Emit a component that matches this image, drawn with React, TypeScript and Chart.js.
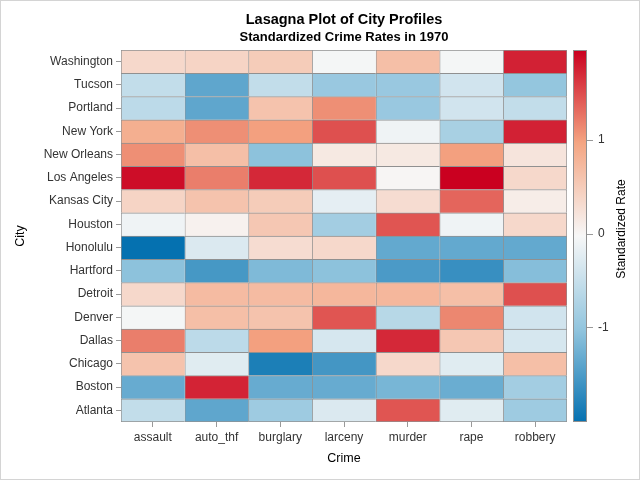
import { useEffect, useRef } from 'react';
import { Chart, registerables } from 'chart.js';

Chart.register(...registerables);

const FONT = '"Liberation Sans", Arial, sans-serif';

const cities = ['Washington', 'Tucson', 'Portland', 'New York', 'New Orleans', 'Los Angeles', 'Kansas City', 'Houston', 'Honolulu', 'Hartford', 'Detroit', 'Denver', 'Dallas', 'Chicago', 'Boston', 'Atlanta'];
const crimes = ['assault', 'auto_thf', 'burglary', 'larceny', 'murder', 'rape', 'robbery'];

// standardized values, in the city order above
const assault = [0.35, -0.55, -0.6, 0.85, 1.1, 1.88, 0.4, -0.1, -2.01, -1.05, 0.35, -0.05, 1.2, 0.6, -1.32, -0.55];
const autoThf = [0.4, -1.38, -1.38, 1.1, 0.65, 1.2, 0.6, 0.05, -0.3, -1.55, 0.7, 0.65, -0.6, -0.25, 1.75, -1.38];
const burglary = [0.5, -0.55, 0.6, 1.0, -1.05, 1.72, 0.5, 0.55, 0.3, -1.15, 0.7, 0.6, 1.0, -1.85, -1.32, -0.9];
const larceny = [-0.05, -0.95, 1.1, 1.48, 0.15, 1.48, -0.2, -0.85, 0.35, -1.05, 0.75, 1.45, -0.35, -1.57, -1.32, -0.3];
const murder = [0.65, -0.95, -0.95, -0.1, 0.15, 0.0, 0.3, 1.45, -1.35, -1.52, 0.75, -0.65, 1.72, 0.35, -1.2, 1.45];
const rape = [-0.05, -0.4, -0.4, -0.8, 1.0, 1.96, 1.35, -0.1, -1.35, -1.65, 0.65, 1.15, 0.55, -0.25, -1.3, -0.25];
const robbery = [1.76, -1.0, -0.55, 1.76, 0.2, 0.35, 0.1, 0.35, -1.35, -1.1, 1.48, -0.4, -0.35, 0.65, -0.85, -0.9];

const seriesValues = [assault, autoThf, burglary, larceny, murder, rape, robbery];
const legendTicks = [-1, 0, 1];

const CB_MIN = -2.01;
const CB_MAX = 1.96;
const rampColors = ['#0571b0', '#92c5de', '#f7f7f7', '#f4a582', '#ca0020'];

function hexToRgb(h: string) {
  const n = parseInt(h.slice(1), 16);
  return [(n >> 16) & 255, (n >> 8) & 255, n & 255];
}

function colorFor(v: number) {
  let t = (v - CB_MIN) / (CB_MAX - CB_MIN);
  t = Math.max(0, Math.min(1, t));
  const seg = t * (rampColors.length - 1);
  const i = Math.min(rampColors.length - 2, Math.floor(seg));
  const f = seg - i;
  const a = hexToRgb(rampColors[i]);
  const b = hexToRgb(rampColors[i + 1]);
  const c = a.map((x, k) => Math.round(x + (b[k] - x) * f));
  return `rgb(${c[0]},${c[1]},${c[2]})`;
}

const colorBarPlugin = {
  id: 'colorBar',
  afterDraw(chart: any) {
    const cb = chart.scales.cb;
    const ctx = chart.ctx;
    const top = cb.getPixelForValue(CB_MAX);
    const bottom = cb.getPixelForValue(CB_MIN);
    const x0 = Math.round(cb.left) + 6;
    const w = 14;
    ctx.save();
    const grad = ctx.createLinearGradient(0, bottom, 0, top);
    rampColors.forEach((c, i) => grad.addColorStop(i / (rampColors.length - 1), c));
    ctx.fillStyle = grad;
    ctx.fillRect(x0, top, w, bottom - top);
    ctx.strokeStyle = '#909090';
    ctx.lineWidth = 1;
    ctx.strokeRect(x0 + 0.5, Math.round(top) + 0.5, w - 1, Math.round(bottom - top) - 1);
    ctx.strokeStyle = '#999999';
    cb.ticks.forEach((t: any) => {
      const y = Math.round(cb.getPixelForValue(t.value)) + 0.5;
      ctx.beginPath();
      ctx.moveTo(x0 + w, y);
      ctx.lineTo(x0 + w + 6, y);
      ctx.stroke();
    });
    ctx.translate(cb.left + 55, (chart.chartArea.top + chart.chartArea.bottom) / 2 - 7);
    ctx.rotate(-Math.PI / 2);
    ctx.fillStyle = '#000';
    ctx.font = `12px ${FONT}`;
    ctx.textAlign = 'center';
    ctx.textBaseline = 'middle';
    ctx.fillText('Standardized Rate', 0, 0);
    ctx.restore();
  },
};

export default function App() {
  const ref = useRef<HTMLCanvasElement>(null);
  useEffect(() => {
    if (!ref.current) return;
    Chart.defaults.font.family = FONT;
    const chart = new Chart(ref.current, {
      type: 'bar',
      data: {
        labels: cities,
        datasets: crimes.map((c, i) => ({
          label: c,
          data: cities.map(() => [i - 0.5, i + 0.5]),
          backgroundColor: seriesValues[i].map(colorFor),
          borderColor: '#909090',
          borderWidth: (ctx: any) => ({ left: 1, top: 1, right: ctx.datasetIndex === crimes.length - 1 ? 1 : 0, bottom: ctx.dataIndex === cities.length - 1 ? 1 : 0 }),
          borderSkipped: false,
          barPercentage: 1,
          categoryPercentage: 1,
          grouped: false,
        })) as any,
      },
      options: {
        indexAxis: 'y',
        animation: false,
        responsive: false,
        layout: { padding: 0 },
        plugins: {
          legend: { display: false },
          tooltip: { enabled: false },
          title: {
            display: true,
            text: 'Lasagna Plot of City Profiles',
            fullSize: false,
            color: '#000',
            font: { size: 14.5, weight: 'bold', family: FONT },
            padding: { top: 10, bottom: 0 },
          },
          subtitle: {
            display: true,
            text: 'Standardized Crime Rates in 1970',
            fullSize: false,
            color: '#000',
            font: { size: 13, weight: 'bold', family: FONT },
            padding: { top: 1, bottom: 5 },
          },
        },
        scales: {
          x: {
            type: 'linear',
            min: -0.5,
            max: 6.5,
            offset: false,
            afterBuildTicks: (s: any) => { s.ticks = crimes.map((_, i) => ({ value: i })); },
            afterFit: (s: any) => { s.height = 57; },
            ticks: { callback: (v: any) => crimes[v], autoSkip: false, maxRotation: 0, color: '#333', font: { size: 12 }, padding: 3 },
            grid: { drawOnChartArea: false, drawTicks: true, tickLength: 5, color: '#999' },
            border: { display: false },
            title: { display: true, text: 'Crime', color: '#000', font: { size: 12.5 }, padding: { top: 4, bottom: 13 } },
          },
          y: {
            type: 'category',
            offset: true,
            afterFit: (s: any) => { s.width = 120; },
            ticks: { color: '#333', font: { size: 12 }, padding: 3 },
            grid: { drawOnChartArea: false, drawTicks: true, tickLength: 5, color: '#999', offset: false },
            border: { display: false },
            title: { display: true, text: 'City', color: '#000', font: { size: 12.5 }, padding: { top: 12, bottom: 0 } },
          },
          cb: {
            type: 'linear',
            position: 'right',
            axis: 'y',
            offset: false,
            min: CB_MIN,
            max: CB_MAX,
            afterBuildTicks: (s: any) => { s.ticks = legendTicks.map((v) => ({ value: v })); },
            afterFit: (s: any) => { s.width = 72; },
            ticks: { color: '#333', font: { size: 12 }, padding: 31 },
            grid: { display: false, drawTicks: false, offset: false },
            border: { display: false },
          },
        } as any,
      },
      plugins: [colorBarPlugin],
    });
    return () => chart.destroy();
  }, []);
  return (
    <div style={{ position: 'absolute', left: 0, top: 0, width: 640, height: 480, boxSizing: 'border-box', border: '1px solid #d4d4d4', background: '#fff' }}>
      <canvas ref={ref} width={638} height={478} style={{ display: 'block' }} />
    </div>
  );
}
